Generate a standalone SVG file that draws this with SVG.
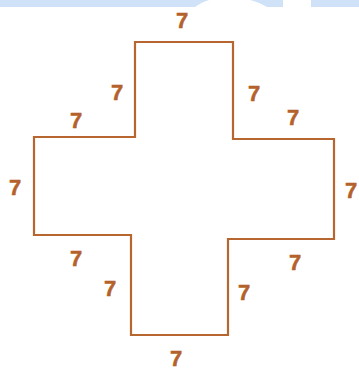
<svg xmlns="http://www.w3.org/2000/svg" width="359" height="371" viewBox="0 0 359 371">
<style>
.lbl{font-family:"Liberation Sans",Arial,sans-serif;font-weight:bold;font-size:22px;fill:#b4612b;stroke:#b4612b;stroke-width:0.5;text-anchor:middle}
.edge{fill:none;stroke:#b8662f;stroke-width:2.2;stroke-linejoin:miter}
</style>
<rect x="0" y="0" width="359" height="371" fill="#ffffff"/>
<g id="band">
<rect x="0" y="0" width="359" height="7" fill="#cfe2f8"/>
<path d="M195,7 C205,0 212,-2 230,-2 C250,-2 258,2 267,7 Z" fill="#ffffff"/>
<rect x="283" y="0" width="28" height="7" fill="#ffffff"/>
</g>
<g id="connectors">
<path class="edge" d="M135,42 H233 V139 H334 V239 H228 V335 H131 V235 H34 V137 H135 Z"/>
</g>
<g id="labels">
<g id="l-top"><text class="lbl" x="182" y="28">7</text></g>
<g id="l-toparm-left"><text class="lbl" x="117" y="100">7</text></g>
<g id="l-toparm-right"><text class="lbl" x="254" y="101">7</text></g>
<g id="l-leftarm-top"><text class="lbl" x="76" y="128">7</text></g>
<g id="l-rightarm-top"><text class="lbl" x="293" y="125">7</text></g>
<g id="l-left"><text class="lbl" x="15" y="195">7</text></g>
<g id="l-right"><text class="lbl" x="351" y="198">7</text></g>
<g id="l-leftarm-bottom"><text class="lbl" x="76" y="266">7</text></g>
<g id="l-botarm-left"><text class="lbl" x="110" y="296">7</text></g>
<g id="l-rightarm-bottom"><text class="lbl" x="295" y="270">7</text></g>
<g id="l-botarm-right"><text class="lbl" x="244" y="300">7</text></g>
<g id="l-bottom"><text class="lbl" x="176" y="366">7</text></g>
</g>
</svg>
